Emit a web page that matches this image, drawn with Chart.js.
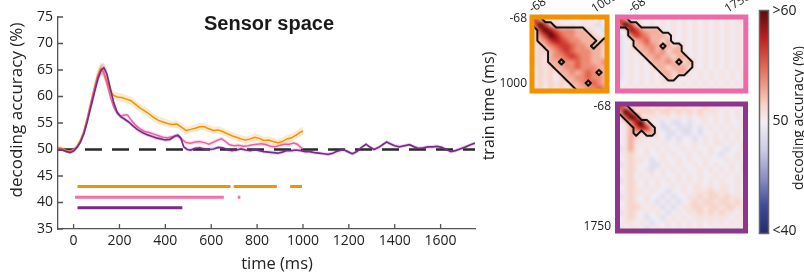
<!DOCTYPE html>
<html><head><meta charset="utf-8">
<script src="https://cdn.jsdelivr.net/npm/chart.js@4.4.1/dist/chart.umd.min.js"></script>
<style>
html,body{margin:0;padding:0;background:#fff;}
#wrap{position:relative;width:804px;height:277px;overflow:hidden;background:#fff;}
canvas{position:absolute;left:0;top:0;}
</style></head><body>
<div id="wrap">
<canvas id="main" width="804" height="277"></canvas>
<canvas id="hmO" width="804" height="277"></canvas>
<canvas id="hmP" width="804" height="277"></canvas>
<canvas id="hmU" width="804" height="277"></canvas>
<canvas id="cbar" width="804" height="277"></canvas>
</div>
<script>
// ================= DATA =================
const xTicks = [0,200,400,600,800,1000,1200,1400,1600];
const yTicks = [35,40,45,50,55,60,65,70,75];
const chanceLevel = 50;

const orangeT = [-68,-50,-30,-15,0,15,30,45,60,75,90,105,118,130,145,160,175,190,210,230,250,270,290,310,330,350,370,390,410,430,450,470,490,510,530,550,570,590,610,630,650,670,690,710,730,750,770,790,810,830,850,870,890,910,930,950,970,985,1000];
const orangeV = [50.4,50.2,49.8,49.7,50.0, 50.6,51.8,53.5,56.0,58.8, 61.5,64.0,65.3,64.8,63.0, 61.0,60.2,59.9,59.8,59.5, 59.2,58.5,57.8,57.3,56.7, 56.0,55.5,55.2,54.9,54.7, 54.8,54.2,53.6,53.8,54.0, 54.3,54.3,53.9,53.6,53.7, 53.4,53.0,52.6,52.3,52.0, 51.8,52.0,52.3,52.1,51.7, 51.8,51.5,51.3,51.5,52.0, 52.2,52.7,53.2,53.5];
const orangeSE = [0.4,0.4,0.4,0.4,0.4, 0.4,0.5,0.6,0.8,1.0, 1.1,1.2,1.2,1.2,1.1, 0.9,0.8,0.8,0.8,0.8, 0.8,0.8,0.8,0.8,0.8, 0.75,0.75,0.75,0.7,0.7, 0.7,0.7,0.7,0.7,0.7, 0.7,0.7,0.7,0.7,0.7, 0.7,0.7,0.7,0.7,0.7, 0.7,0.7,0.7,0.7,0.7, 0.7,0.7,0.7,0.7,0.75, 0.75,0.75,0.8,0.8];

const pinkT = [-68,-50,-30,-15,0,15,30,45,60,75,90,105,118,130,145,160,175,190,205,220,235,250,270,290,310,330,350,370,390,410,430,450,470,490,510,530,550,570,590,610,630,645,660,680,700,720,740,760,780,800,820,840,860,880,900,920,940,960,975,990,1000];
const pinkV = [50.2,50.0,49.7,49.6,49.9, 50.5,51.6,53.3,55.8,58.6, 61.3,63.8,65.0,64.6,62.5, 60.0,58.0,56.8,56.3, 56.5,56.5,55.6, 54.6,53.9,53.4,53.2, 52.9,52.6,52.3,52.2,52.4, 52.6,52.0,51.3,51.2,51.4, 51.5,51.3,51.0,51.4,51.8, 52.0,51.6,50.9,50.7,50.8, 50.6,50.7,50.9,51.0,51.1, 50.9,50.6,50.5,50.8,51.0, 51.0,51.2,51.0,50.4,50.1];
const pinkSE = [0.3,0.3,0.3,0.3,0.3, 0.3,0.35,0.45,0.6,0.8, 0.9,1.0,1.0,1.0,0.9, 0.7,0.5,0.45,0.4, 0.4,0.4,0.4, 0.4,0.4,0.4,0.4, 0.4,0.4,0.4,0.4,0.4, 0.4,0.4,0.4,0.4,0.4, 0.4,0.4,0.4,0.4,0.4, 0.4,0.4,0.4,0.4,0.4, 0.4,0.4,0.4,0.4,0.4, 0.4,0.4,0.4,0.4,0.4, 0.4,0.4,0.4,0.4,0.4];

const purpleT = [-68,-50,-30,-15,0, 15,30,45,60,75, 90,105,120,132,145, 160,175,190,205,220, 240,260,280,300,320, 340,360,380,400,420, 440,455,467,480,495, 510,530,550,570,590, 610,630,650,670,690, 710,730,750,770,790, 810,830,850,870,890, 910,930,950,970,990, 1010,1030,1050,1070,1090, 1110,1130,1150,1175,1195, 1215,1235,1255,1275,1290, 1310,1330,1350,1365,1380, 1400,1420,1440,1465,1485, 1505,1525,1545,1565,1585, 1605,1625,1645,1665,1685, 1705,1725,1750];
const purpleV = [50.0,49.9,49.6,49.4,49.7, 50.4,51.4,53.0,55.3,58.0, 60.6,63.2,65.0,65.4,64.3, 61.5,58.8,57.0,56.2,55.8, 55.2,54.4,53.7,53.2,52.8, 52.5,52.2,52.0,51.8,51.9, 52.5,52.7,52.2,50.5,50.0, 49.9,50.2,50.3,50.1,50.0, 50.1,50.4,50.3,50.0,49.8, 49.9,50.1,49.9,49.8,50.0, 49.8,49.6,49.5,49.4,49.3, 49.5,49.8,49.8,49.9,49.8, 49.6,49.6,49.4,49.3,49.2, 49.1,49.3,49.7,50.0,49.6, 49.2,49.6,50.4,51.0,50.5, 50.0,50.4,51.0,51.4,51.1, 50.7,50.5,50.7,50.9,50.5, 50.2,50.3,50.5,50.5,50.6, 50.4,50.0,49.6,49.8,50.1, 50.4,50.8,51.2];
const purpleSE = [0.3,0.3,0.3,0.3,0.3, 0.3,0.35,0.45,0.6,0.8, 0.9,1.0,1.0,1.0,0.9, 0.7,0.5,0.45,0.4,0.4,
 0.4,0.4,0.4,0.4,0.4,0.4,0.4,0.4,0.4,0.4,
 0.4,0.4,0.4,0.4,0.35,0.35,0.35,0.35,0.35,0.35,
 0.35,0.35,0.35,0.35,0.35,0.35,0.35,0.35,0.35,0.35,
 0.35,0.35,0.35,0.35,0.35,0.35,0.35,0.35,0.35,0.35,
 0.35,0.35,0.35,0.35,0.35,0.35,0.35,0.35,0.35,0.35,
 0.35,0.35,0.35,0.35,0.35,0.35,0.35,0.35,0.35,0.35,
 0.35,0.35,0.35,0.35,0.35,0.35,0.35,0.35,0.35,0.35,
 0.35,0.35,0.35,0.35,0.35,0.35,0.35,0.35];

// significance bars: [start, end] in ms, and their y level
const orangeSig = [[17,684],[698,886],[944,996]];
const orangeSigY = 43;
const pinkSig = [[6,655],[716,727]];
const pinkSigY = 41;
const purpleSig = [[17,474]];
const purpleSigY = 39;

// temporal generalization matrices (rows = train time, cols = test time)
// digits 0-9 = accuracy level, letters a-j = same level but significant
const hmLevels = [48.8,49.8,50.7,51.5,52.6,53.8,55.2,56.6,58.0,60.0];
const orangeGrid = [
 "hf312121122121",
 "gjhe3212121201",
 "3hjigfffee3210",
 "3fhjigffeee321",
 "3efhihgffeee3e",
 "23efghhgffe4ed",
 "233efghgfffeed",
 "232effghgffeed",
 "232ee5ffgffeef",
 "2323eeffgfffee",
 "13232eefefgf5e",
 "232313eeffgffe",
 "1323232eef5gfe",
 "23132323eeffgf"
];
const pinkGrid = [
 "hf2121212121212121212121",
 "gjhe21212121212121212121",
 "13ihfeee2121212121212121",
 "01fhgfeeed21212121212121",
 "012efgeede21212121212121",
 "012eeffe4ede212121212121",
 "0122eefefdee212121212121",
 "01212eefeedee12121212121",
 "012121eeefe4de2121212121",
 "0121212eedeeed2121212121",
 "01212121eedee21212121212",
 "012121212ed2121212121212",
 "112121212121212121212121",
 "121212121212121212121212"
];
const purpleGrid = [
 "hf2333232332322232221212",
 "fjh333323323232322212121",
 "2gji32221212121221212121",
 "13fije210100101121212112",
 "124gihe10010001012121212",
 "124e3ee21001001011212121",
 "124322121010110121212121",
 "124221212112112121221212",
 "024212121211212112110112",
 "123212112121121212101121",
 "123221012112121121112121",
 "023211001212112121211212",
 "123212012121211212121212",
 "123121212112121211212121",
 "023212121212121212121121",
 "123212121121212212122121",
 "123221211011212223222121",
 "023212110101122323323221",
 "123212101010123233233232",
 "123321210101223323323322",
 "023212121012122323232212",
 "123210110121212222222121",
 "122121011212121212121212",
 "012210121212121211212121"
];
// colour scale
const cbValues = [40,42.5,45,47.5,50,51.5,53,55,57.5,60];
const cbColors = ['#232a6e','#3f4a9a','#8d8fc6','#cdcbe6','#f3eef4','#f7d4ca','#f1a48f','#e4664f','#c21e1e','#5e0a0a'];
const cbTicks = [60,50,40];
const cbTickLabels = ['>60','50','<40'];

// ================= HELPERS =================
const FONT = "'Open Sans','Noto Sans','DejaVu Sans',sans-serif";
const C_OR = '#f39200', C_PK = '#ec5fa0', C_PU = '#7b2a8a';
const F_OR = '#f39200', F_PK = '#ee6aa7', F_PU = '#8d378c';
const ROT = -32*Math.PI/180;

function hex2rgb(h){return [parseInt(h.substr(1,2),16),parseInt(h.substr(3,2),16),parseInt(h.substr(5,2),16)];}
const cbRGB = cbColors.map(hex2rgb);
function cmap(v){
  if(v<=cbValues[0]) return cbRGB[0];
  if(v>=cbValues[cbValues.length-1]) return cbRGB[cbRGB.length-1];
  for(let i=0;i<cbValues.length-1;i++){
    if(v>=cbValues[i]&&v<=cbValues[i+1]){
      const t=(v-cbValues[i])/(cbValues[i+1]-cbValues[i]);
      return [0,1,2].map(k=>Math.round(cbRGB[i][k]+(cbRGB[i+1][k]-cbRGB[i][k])*t));
    }
  }
}
function pts(T,V,SE,sign){return T.map((t,i)=>({x:t,y:V[i]+(SE?sign*SE[i]:0)}));}
function segPts(segs,y){const o=[];segs.forEach(([a,b])=>{o.push({x:a,y:y},{x:b,y:y},{x:b,y:null});});return o;}

// ================= MAIN LINE CHART =================
const mainPlugin = {
  id:'mainDeco',
  afterDraw(chart){
    const {ctx, chartArea:a, scales:{x,y}} = chart;
    ctx.save();
    ctx.strokeStyle='#555'; ctx.lineWidth=1.3;
    ctx.beginPath();
    xTicks.forEach(v=>{const p=x.getPixelForValue(v); ctx.moveTo(p,a.bottom); ctx.lineTo(p,a.bottom-5);});
    yTicks.forEach(v=>{const p=y.getPixelForValue(v); ctx.moveTo(a.left,p); ctx.lineTo(a.left+5,p);});
    ctx.stroke();
    ctx.fillStyle='#1a1a1a';
    ctx.font="bold 20px 'Liberation Sans', Arial, sans-serif";
    ctx.textAlign='center'; ctx.textBaseline='alphabetic';
    ctx.fillText('Sensor space',269,30);
    ctx.fillStyle='#222';
    ctx.font='17px '+FONT; ctx.textBaseline='middle';
    ctx.save(); ctx.translate(17,110); ctx.rotate(-Math.PI/2); ctx.fillText('decoding accuracy (%)',0,0); ctx.restore();
    ctx.font='16.5px '+FONT;
    ctx.fillText('time (ms)',277,264);
    ctx.restore();
  }
};

const band = (T,V,SE,col,fillIdx,order)=>[
  {type:'line',data:pts(T,V,SE,1),borderWidth:0,pointRadius:0,fill:fillIdx,backgroundColor:col,order:order},
  {type:'line',data:pts(T,V,SE,-1),borderWidth:0,pointRadius:0,fill:false,order:order}
];
const line = (T,V,col,w,order)=>({type:'line',data:pts(T,V),borderColor:col,borderWidth:w,pointRadius:0,fill:false,order:order});
const sig = (segs,y,col,order)=>({type:'line',data:segPts(segs,y),borderColor:col,borderWidth:3,pointRadius:0,fill:false,spanGaps:false,order:order,borderCapStyle:'butt'});

new Chart(document.getElementById('main'),{
  type:'line',
  data:{datasets:[
    ...band(orangeT,orangeV,orangeSE,'rgba(243,146,0,0.20)',1,20),
    ...band(pinkT,pinkV,pinkSE,'rgba(236,95,160,0.18)',3,19),
    ...band(purpleT,purpleV,purpleSE,'rgba(130,45,140,0.18)',5,18),
    {type:'line',data:[{x:-68,y:chanceLevel},{x:1750,y:chanceLevel}],borderColor:'#2a2a2a',borderWidth:2.4,borderDash:[17,10],pointRadius:0,fill:false,order:10},
    line(orangeT,orangeV,C_OR,1.5,3),
    line(pinkT,pinkV,C_PK,1.5,2),
    line(purpleT,purpleV,C_PU,1.7,1),
    sig(orangeSig,orangeSigY,C_OR,1),
    sig(pinkSig,pinkSigY,'#ef72ab',1),
    sig(purpleSig,purpleSigY,C_PU,1)
  ]},
  options:{
    responsive:false, animation:false, events:[],
    layout:{padding:{left:0,top:17,right:329,bottom:0}},
    plugins:{legend:{display:false},tooltip:{enabled:false}},
    elements:{line:{tension:0}},
    scales:{
      x:{type:'linear',min:-68,max:1750,
         afterBuildTicks:s=>{s.ticks=xTicks.map(v=>({value:v}));},
         afterFit:s=>{s.height=48;},
         grid:{display:false,drawTicks:false},
         border:{display:true,color:'#555',width:1.3},
         ticks:{font:{family:FONT,size:14},color:'#222',padding:4,maxRotation:0,autoSkip:false,callback:v=>String(v)}},
      y:{type:'linear',min:35,max:75,
         afterBuildTicks:s=>{s.ticks=yTicks.map(v=>({value:v}));},
         afterFit:s=>{s.width=58;},
         grid:{display:false,drawTicks:false},
         border:{display:true,color:'#555',width:1.3},
         ticks:{font:{family:FONT,size:14},color:'#222',padding:5,autoSkip:false,callback:v=>String(v)}}
    }
  },
  plugins:[mainPlugin]
});

// ================= HEATMAPS =================
function heatChart(id, grid, rowEnd, colEnd, pad, frameColor, xLabs, yLabs){
  const t0=-68, rows=grid.length, cols=grid[0].length;
  const dR=(rowEnd-t0)/rows, dC=(colEnd-t0)/cols;
  const cells=[];
  grid.forEach((s,r)=>{for(let c=0;c<cols;c++){
    const ch=s[c]; const isSig=ch>='a'&&ch<='j';
    const lvl=isSig?ch.charCodeAt(0)-97:ch.charCodeAt(0)-48;
    cells.push({x:t0+(c+0.5)*dC,y:t0+(r+0.5)*dR,v:hmLevels[lvl],sig:isSig,r:r,c:c});
  }});
  const plug={
    id:'heat_'+id,
    beforeDatasetsDraw(chart){
      const {ctx,chartArea:a,scales:{x,y}}=chart;
      const data=chart.data.datasets[0].data;
      const off=document.createElement('canvas'); off.width=cols; off.height=rows;
      const octx=off.getContext('2d'); const img=octx.createImageData(cols,rows);
      const M=[]; for(let r=0;r<rows;r++) M.push(new Array(cols).fill(0));
      data.forEach(d=>{const k=(d.r*cols+d.c)*4; const rgb=cmap(d.v);
        img.data[k]=rgb[0];img.data[k+1]=rgb[1];img.data[k+2]=rgb[2];img.data[k+3]=255;
        if(d.sig) M[d.r][d.c]=1;});
      octx.putImageData(img,0,0);
      const X0=x.getPixelForValue(t0),X1=x.getPixelForValue(colEnd),Y0=y.getPixelForValue(t0),Y1=y.getPixelForValue(rowEnd);
      ctx.save();
      ctx.imageSmoothingEnabled=true; ctx.imageSmoothingQuality='high';
      ctx.drawImage(off,X0,Y0,X1-X0,Y1-Y0);
      ctx.beginPath(); ctx.rect(a.left,a.top,a.right-a.left,a.bottom-a.top); ctx.clip();
      const m=(r,c)=>(r>=0&&r<rows&&c>=0&&c<cols)?M[r][c]:0;
      const px=c=>x.getPixelForValue(t0+(c+0.5)*dC);
      const py=r=>y.getPixelForValue(t0+(r+0.5)*dR);
      ctx.beginPath();
      for(let r=-1;r<rows;r++)for(let c=-1;c<cols;c++){
        const code=m(r,c)*8+m(r,c+1)*4+m(r+1,c+1)*2+m(r+1,c);
        if(code===0||code===15) continue;
        const T=[px(c+0.5),py(r)],R=[px(c+1),py(r+0.5)],B=[px(c+0.5),py(r+1)],L=[px(c),py(r+0.5)];
        const tbl={1:[[L,B]],2:[[B,R]],3:[[L,R]],4:[[T,R]],5:[[L,B],[T,R]],6:[[T,B]],7:[[T,L]],8:[[T,L]],9:[[T,B]],10:[[T,L],[B,R]],11:[[T,R]],12:[[L,R]],13:[[R,B]],14:[[L,B]]};
        (tbl[code]||[]).forEach(([p,q])=>{ctx.moveTo(p[0],p[1]);ctx.lineTo(q[0],q[1]);});
      }
      ctx.lineWidth=2; ctx.strokeStyle='#111'; ctx.lineCap='round'; ctx.lineJoin='round'; ctx.stroke();
      ctx.restore();
    },
    afterDraw(chart){
      const {ctx,chartArea:a,scales:{x,y}}=chart;
      ctx.save();
      ctx.strokeStyle=frameColor; ctx.lineWidth=5;
      ctx.strokeRect(a.left,a.top,a.right-a.left,a.bottom-a.top);
      ctx.fillStyle='#222'; ctx.font='12px '+FONT;
      xLabs.forEach(l=>{
        ctx.save(); ctx.translate(x.getPixelForValue(l.v)+l.dx, a.top-4);
        ctx.rotate(ROT); ctx.textAlign='left'; ctx.textBaseline='alphabetic';
        ctx.fillText(l.t,0,0); ctx.restore();
      });
      yLabs.forEach(l=>{
        ctx.textAlign='right'; ctx.textBaseline='middle';
        ctx.fillText(l.t,l.xr,y.getPixelForValue(l.v)+l.dy);
      });
      ctx.restore();
    }
  };
  new Chart(document.getElementById(id),{
    type:'scatter',
    data:{datasets:[{data:cells,pointRadius:0}]},
    options:{responsive:false,animation:false,events:[],
      layout:{padding:pad},
      plugins:{legend:{display:false},tooltip:{enabled:false}},
      scales:{x:{type:'linear',min:t0,max:colEnd,display:false},
              y:{type:'linear',min:t0,max:rowEnd,reverse:true,display:false}}},
    plugins:[plug]
  });
}

heatChart('hmO',orangeGrid,1000,1000,{left:532,right:197,top:17,bottom:186},F_OR,
  [{v:-68,dx:0,t:'-68'},{v:1000,dx:-12.5,t:'1000'}],
  [{v:-68,dy:2,xr:527,t:'-68'},{v:1000,dy:-7,xr:527,t:'1000'}]);
heatChart('hmP',pinkGrid,1000,1750,{left:617.5,right:58.2,top:17,bottom:186},F_PK,
  [{v:-68,dx:14,t:'-68'},{v:1750,dx:-18,t:'1750'}],[]);
heatChart('hmU',purpleGrid,1750,1750,{left:617.5,right:58.5,top:104,bottom:46},F_PU,
  [],
  [{v:-68,dy:3,xr:611,t:'-68'},{v:1750,dy:-4,xr:611,t:'1750'}]);

// ================= COLOUR BAR =================
const cbPlugin={
  id:'cbar',
  beforeDatasetsDraw(chart){
    const {ctx,chartArea:a,scales:{y}}=chart;
    const yt=y.getPixelForValue(60), yb=y.getPixelForValue(40);
    const g=ctx.createLinearGradient(0,yt,0,yb);
    cbValues.forEach((v,i)=>{g.addColorStop((y.getPixelForValue(v)-yt)/(yb-yt),cbColors[i]);});
    ctx.save();
    ctx.fillStyle=g; ctx.fillRect(a.left,yt,a.right-a.left,yb-yt);
    ctx.strokeStyle='#666'; ctx.lineWidth=1.5; ctx.strokeRect(a.left,yt,a.right-a.left,yb-yt);
    ctx.fillStyle='#222'; ctx.font='14px '+FONT; ctx.textAlign='left'; ctx.textBaseline='middle';
    cbTicks.forEach((v,i)=>{ctx.fillText(cbTickLabels[i],a.right+4,y.getPixelForValue(v)+(i===0?1:(i===2?-2:-1)));});
    ctx.textAlign='center';
    ctx.save(); ctx.translate(799,118); ctx.rotate(-Math.PI/2); ctx.fillText('decoding accuracy (%)',0,0); ctx.restore();
    ctx.font='16px '+FONT;
    ctx.save(); ctx.translate(489,106); ctx.rotate(-Math.PI/2); ctx.fillText('train time (ms)',0,0); ctx.restore();
    ctx.restore();
  }
};
new Chart(document.getElementById('cbar'),{
  type:'scatter',
  data:{datasets:[{data:cbValues.map(v=>({x:0.5,y:v})),pointRadius:0}]},
  options:{responsive:false,animation:false,events:[],
    layout:{padding:{left:759.5,right:35.5,top:10.5,bottom:43.5}},
    plugins:{legend:{display:false},tooltip:{enabled:false}},
    scales:{x:{type:'linear',min:0,max:1,display:false},y:{type:'linear',min:40,max:60,display:false}}},
  plugins:[cbPlugin]
});
</script>
</body></html>
